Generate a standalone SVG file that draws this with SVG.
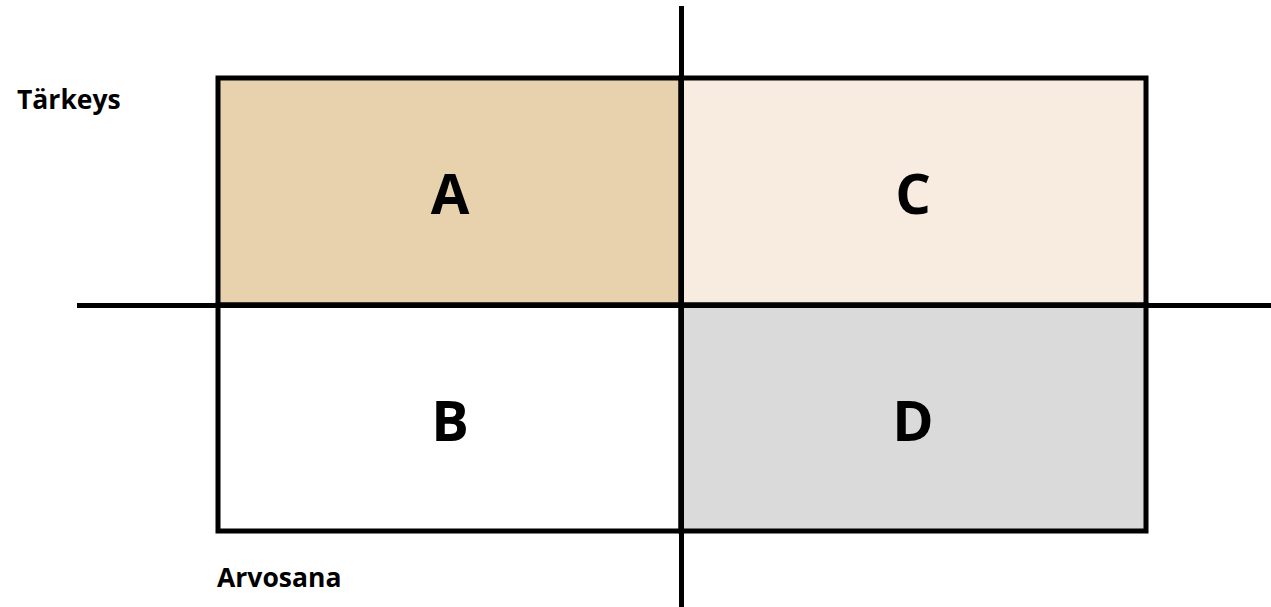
<svg xmlns="http://www.w3.org/2000/svg" width="1271" height="607" viewBox="0 0 1271 607">
<style>
.q{stroke:#000;stroke-width:5}
.big{font-family:"Open Sans","Liberation Sans",sans-serif;font-weight:bold;font-size:56px;text-anchor:middle;fill:#000}
.lbl{font-family:"Open Sans","Liberation Sans",sans-serif;font-weight:bold;font-size:26.5px;fill:#000}
</style>
<rect width="1271" height="607" fill="#fff"/>
<g id="A"><rect class="q" x="218" y="78" width="463" height="227" fill="#E8D2AE"/><text class="big" x="450" y="214">A</text></g>
<g id="C"><rect class="q" x="681" y="78" width="465" height="227" fill="#F8EBE0"/><text class="big" x="913" y="214">C</text></g>
<g id="B"><rect class="q" x="218" y="305" width="463" height="226" fill="#fff"/><text class="big" x="450" y="441">B</text></g>
<g id="D"><rect class="q" x="681" y="305" width="465" height="226" fill="#DADADA"/><text class="big" x="913" y="441">D</text></g>
<g id="connectors">
<line class="q" x1="681.5" y1="6" x2="681.5" y2="607"/>
<line class="q" x1="77" y1="305.5" x2="1271" y2="305.5"/>
</g>
<text class="lbl" x="17" y="109">Tärkeys</text>
<text class="lbl" x="217" y="587">Arvosana</text>
</svg>
